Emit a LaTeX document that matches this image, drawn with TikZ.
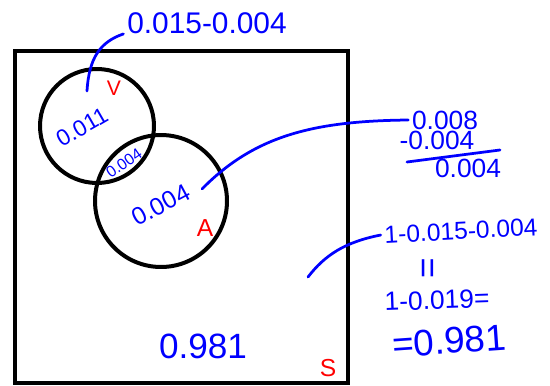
\documentclass[tikz,border=0pt]{standalone}
\usepackage{fontspec}
\setmainfont{Liberation Sans}
\usetikzlibrary{positioning}

\begin{document}
\begin{tikzpicture}[x=0.02cm, y=-0.02cm,
    every node/.style={inner sep=0pt},
    note/.style={text=blue, font=\fontsize{15}{18}\selectfont},
    small/.style={text=blue, font=\fontsize{9}{11}\selectfont},
    tag/.style={text=red, font=\fontsize{14}{16}\selectfont},
    frame/.style={line width=0.08cm, black},
    link/.style={blue, line width=0.055cm, line cap=round}]

  \useasboundingbox (0,0) rectangle (550,385);

  % sample space and the two events
  \coordinate (V) at (97,126);
  \coordinate (A) at (161,201);
  \draw[frame] (15,51) rectangle (348,383);
  \draw[frame] (V) circle[radius=1.14cm];
  \draw[frame] (A) circle[radius=1.32cm];

  \node[tag, font=\fontsize{12}{14}\selectfont] (vlab) at (114,88) {V};
  \node[tag] (alab) at (205,228) {A};
  \node[tag] (slab) at (328,368) {S};

  % values in the regions
  \node[note, rotate=30, font=\fontsize{13}{15}\selectfont] (vonly) at (82,127) {0.011};
  \node[small, rotate=35] (both) at (124,163) {0.004};
  \node[note, rotate=28, font=\fontsize{14}{16}\selectfont] (aonly) at (161,205) {0.004};
  \node[note, font=\fontsize{20}{23}\selectfont] (rest) at (203,346) {0.981};

  % worked notes
  \node[note, font=\fontsize{17}{20}\selectfont] (top) at (207,23) {0.015-0.004};
  \node[note] (d1) at (445,120) {0.008};
  \node[note] (d2) at (437,140) {-0.004};
  \node[note] (d3) at (468,168) {0.004};
  \node[note, rotate=3, font=\fontsize{14}{16}\selectfont] (e1) at (461,231) {1-0.015-0.004};
  \node[note, rotate=90, font=\fontsize{20}{23}\selectfont] (e2) at (431,268) {=};
  \node[note, rotate=2] (e3) at (437,300) {1-0.019=};
  \node[note, rotate=4, font=\fontsize{21}{24}\selectfont] (e4) at (449,341) {=0.981};

  \coordinate (vin) at (87,91);
  \coordinate (ain) at (202,189);
  \coordinate (sin) at (308,277);

  \draw[link] (vin) .. controls (89,58) and (100,42) .. ([xshift=-2pt]top.south west);
  \draw[link] (ain) .. controls (255,135) and (315,121) .. ([xshift=-2pt]d1.west);
  \draw[link] (sin) .. controls (325,255) and (345,242) .. ([xshift=-2pt]e1.west);
  \draw[link] (407,162) -- (500,150);
\end{tikzpicture}
\end{document}
